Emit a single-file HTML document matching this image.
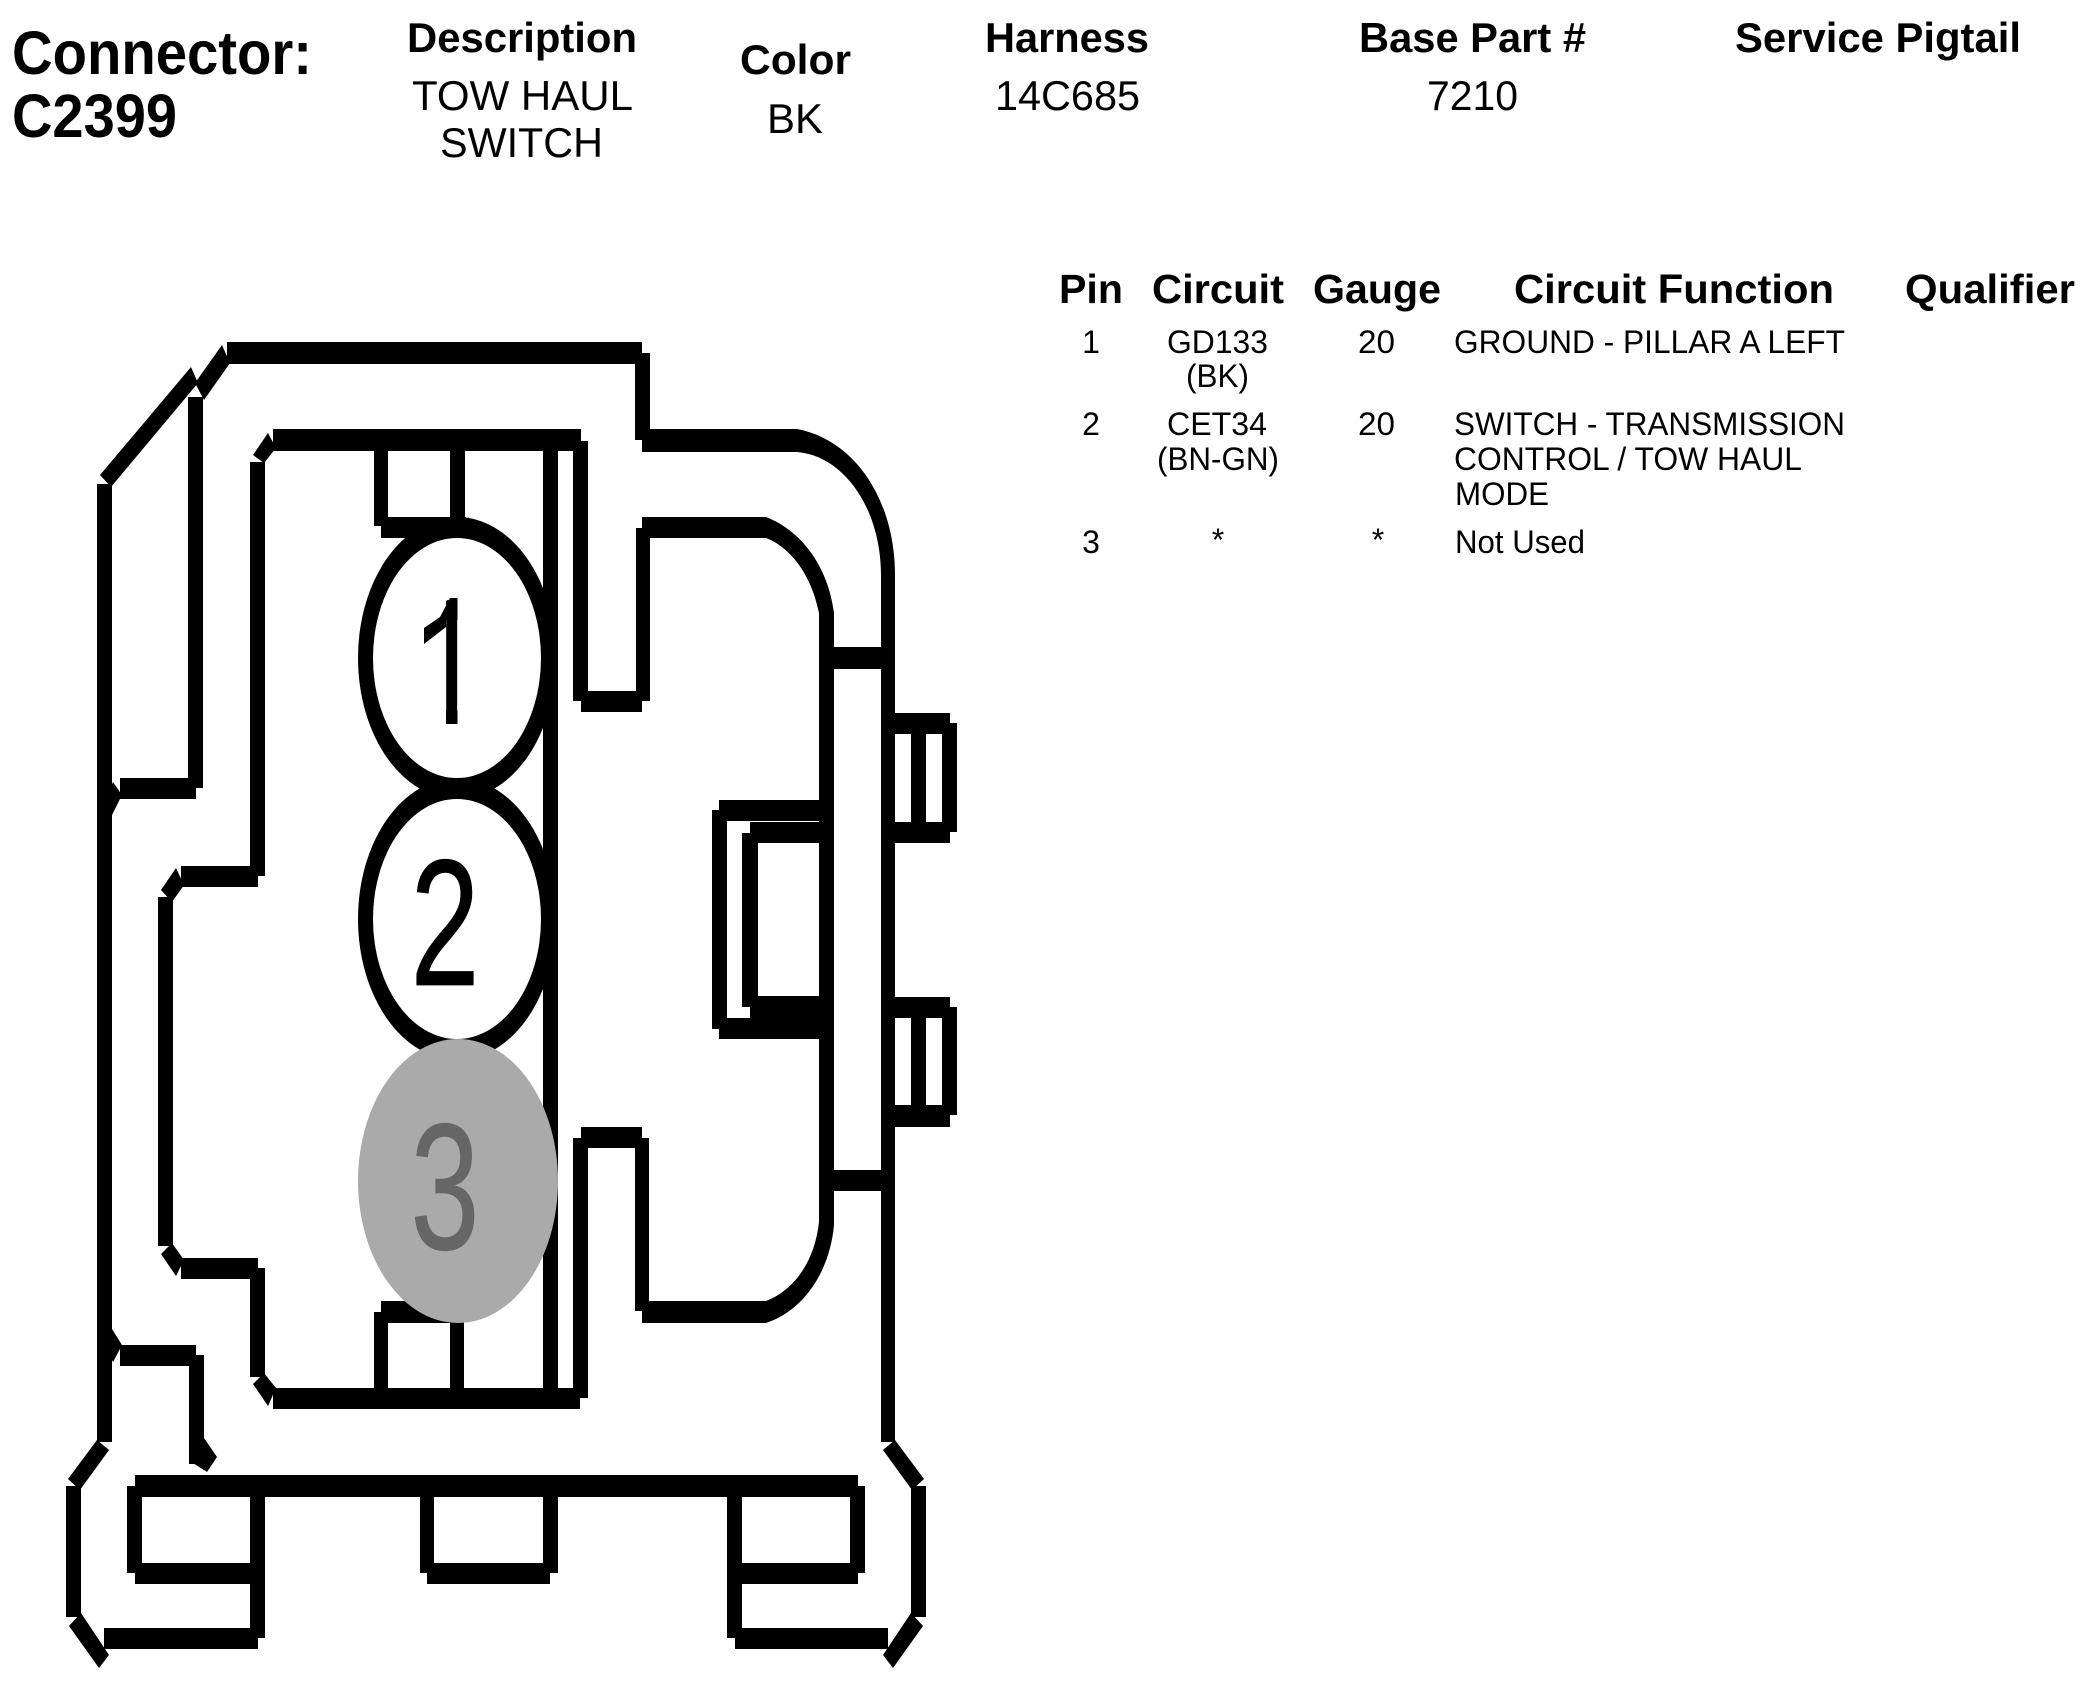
<!DOCTYPE html>
<html>
<head>
<meta charset="utf-8">
<title>Connector C2399</title>
<style>
html,body{margin:0;padding:0;background:#fff;width:2088px;height:1704px;overflow:hidden}
svg{display:block}
text{font-family:"Liberation Sans",Arial,sans-serif;fill:#000}
.b{font-weight:bold}
.h{font-size:42px;font-weight:bold}
.v{font-size:42px}
.t{font-size:41px;font-weight:bold}
.r{font-size:32px}
</style>
</head>
<body>
<svg width="2088" height="1704" viewBox="0 0 2088 1704" xmlns="http://www.w3.org/2000/svg">
<rect width="2088" height="1704" fill="#fff"/>

<!-- header -->
<text class="b" x="12" y="74" font-size="61" textLength="300" lengthAdjust="spacingAndGlyphs">Connector:</text>
<text class="b" x="12" y="137" font-size="61" textLength="165" lengthAdjust="spacingAndGlyphs">C2399</text>
<text class="h" x="407" y="52" textLength="230" lengthAdjust="spacingAndGlyphs">Description</text>
<text class="v" x="412" y="110" textLength="221" lengthAdjust="spacingAndGlyphs">TOW HAUL</text>
<text class="v" x="440" y="157" textLength="163" lengthAdjust="spacingAndGlyphs">SWITCH</text>
<text class="h" x="740" y="74" textLength="111" lengthAdjust="spacingAndGlyphs">Color</text>
<text class="v" x="767" y="133" textLength="56" lengthAdjust="spacingAndGlyphs">BK</text>
<text class="h" x="985" y="52" textLength="164" lengthAdjust="spacingAndGlyphs">Harness</text>
<text class="v" x="995" y="110" textLength="145" lengthAdjust="spacingAndGlyphs">14C685</text>
<text class="h" x="1359" y="52" textLength="227" lengthAdjust="spacingAndGlyphs">Base Part #</text>
<text class="v" x="1427" y="110" textLength="91" lengthAdjust="spacingAndGlyphs">7210</text>
<text class="h" x="1735" y="52" textLength="286" lengthAdjust="spacingAndGlyphs">Service Pigtail</text>

<!-- table -->
<text class="t" x="1059" y="303" textLength="64" lengthAdjust="spacingAndGlyphs">Pin</text>
<text class="t" x="1152" y="303" textLength="132" lengthAdjust="spacingAndGlyphs">Circuit</text>
<text class="t" x="1313" y="303" textLength="128" lengthAdjust="spacingAndGlyphs">Gauge</text>
<text class="t" x="1514" y="303" textLength="320" lengthAdjust="spacingAndGlyphs">Circuit Function</text>
<text class="t" x="1905" y="303" textLength="170" lengthAdjust="spacingAndGlyphs">Qualifier</text>

<text class="r" x="1091" y="353" text-anchor="middle">1</text>
<text class="r" x="1167" y="353" textLength="101" lengthAdjust="spacingAndGlyphs">GD133</text>
<text class="r" x="1186" y="387" textLength="63" lengthAdjust="spacingAndGlyphs">(BK)</text>
<text class="r" x="1358" y="353" textLength="37" lengthAdjust="spacingAndGlyphs">20</text>
<text class="r" x="1454" y="353" textLength="391" lengthAdjust="spacingAndGlyphs">GROUND - PILLAR A LEFT</text>

<text class="r" x="1091" y="435" text-anchor="middle">2</text>
<text class="r" x="1167" y="435" textLength="100" lengthAdjust="spacingAndGlyphs">CET34</text>
<text class="r" x="1157" y="470" textLength="122" lengthAdjust="spacingAndGlyphs">(BN-GN)</text>
<text class="r" x="1358" y="435" textLength="37" lengthAdjust="spacingAndGlyphs">20</text>
<text class="r" x="1454" y="435" textLength="391" lengthAdjust="spacingAndGlyphs">SWITCH - TRANSMISSION</text>
<text class="r" x="1454" y="470" textLength="348" lengthAdjust="spacingAndGlyphs">CONTROL / TOW HAUL</text>
<text class="r" x="1455" y="505" textLength="94" lengthAdjust="spacingAndGlyphs">MODE</text>

<text class="r" x="1091" y="553" text-anchor="middle">3</text>
<text class="r" x="1218" y="551" text-anchor="middle">*</text>
<text class="r" x="1378" y="551" text-anchor="middle">*</text>
<text class="r" x="1455" y="553" textLength="130" lengthAdjust="spacingAndGlyphs">Not Used</text>

<!-- connector drawing -->
<g fill="#000">
  <!-- outer shell top -->
  <rect x="227" y="342" width="415" height="22"/>
  <rect x="635" y="353" width="15" height="87"/>
  <rect x="642" y="429" width="155" height="23"/>
  <path d="M797 429C855 440 895 500 895 575L881 575C881 510 845 456 797 452Z"/>
  <polygon points="222,345 230,363 204,400 195,383"/>
  <polygon points="191,367 198,383 111,487 100,475"/>
  <rect x="97" y="484" width="15" height="958"/>
  <rect x="188" y="397" width="15" height="391"/>
  <rect x="120" y="778" width="76" height="21"/>
  <polygon points="113,782 122,795 112,815 105,800"/>
  <rect x="881" y="573" width="14" height="869"/>

  <!-- inner housing -->
  <rect x="273" y="429" width="308" height="22"/>
  <polygon points="268,433 276,448 264,463 253,455"/>
  <rect x="250" y="462" width="15" height="414"/>
  <rect x="181" y="866" width="77" height="21"/>
  <polygon points="176,868 184,885 172,902 161,890"/>
  <rect x="158" y="897" width="15" height="349"/>
  <polygon points="172,1243 184,1260 176,1276 161,1254"/>
  <rect x="181" y="1258" width="77" height="21"/>
  <rect x="250" y="1268" width="15" height="109"/>
  <polygon points="264,1373 276,1388 268,1406 253,1384"/>
  <rect x="273" y="1388" width="307" height="21"/>
  <rect x="573" y="441" width="15" height="260"/>
  <rect x="581" y="691" width="61" height="21"/>
  <rect x="636" y="528" width="14" height="173"/>
  <rect x="642" y="517" width="124" height="21"/>
  <path d="M766 517C800 530 828 565 834 613L819 613C810 568 785 545 766 538Z"/>
  <rect x="819" y="612" width="15" height="613"/>
  <path d="M834 1225C830 1270 805 1310 766 1323L766 1301C795 1290 815 1260 819 1222Z"/>
  <rect x="642" y="1301" width="124" height="22"/>
  <rect x="635" y="1138" width="14" height="173"/>
  <rect x="581" y="1127" width="61" height="21"/>
  <rect x="573" y="1138" width="15" height="260"/>

  <!-- pin cross lines -->
  <rect x="374" y="451" width="14" height="75"/>
  <rect x="450" y="451" width="15" height="70"/>
  <rect x="381" y="517" width="85" height="21"/>
  <rect x="374" y="1312" width="14" height="78"/>
  <rect x="381" y="1301" width="79" height="22"/>
  <rect x="450" y="1320" width="14" height="70"/>

  <!-- right bars and tabs -->
  <rect x="834" y="647" width="47" height="22"/>
  <rect x="834" y="1170" width="47" height="21"/>
  <rect x="895" y="713" width="55" height="21"/>
  <rect x="942" y="723" width="15" height="109"/>
  <rect x="911" y="734" width="15" height="88"/>
  <rect x="895" y="822" width="55" height="21"/>
  <rect x="895" y="997" width="55" height="21"/>
  <rect x="942" y="1007" width="15" height="108"/>
  <rect x="911" y="1018" width="15" height="87"/>
  <rect x="895" y="1105" width="55" height="22"/>

  <!-- latch -->
  <rect x="719" y="800" width="101" height="21"/>
  <rect x="712" y="810" width="15" height="219"/>
  <rect x="719" y="1018" width="101" height="21"/>
  <rect x="742" y="833" width="16" height="174"/>
  <rect x="750" y="822" width="70" height="21"/>
  <rect x="750" y="996" width="70" height="22"/>

  <!-- hook lower-left -->
  <polygon points="112,1329 122,1345 113,1362 104,1345"/>
  <rect x="120" y="1345" width="76" height="21"/>
  <rect x="189" y="1355" width="15" height="109"/>
  <polygon points="204,1438 217,1457 207,1472 193,1463"/>

  <!-- foot -->
  <rect x="135" y="1475" width="723" height="22"/>
  <rect x="127" y="1486" width="15" height="87"/>
  <rect x="135" y="1563" width="130" height="21"/>
  <rect x="250" y="1496" width="15" height="142"/>
  <rect x="104" y="1628" width="154" height="21"/>
  <rect x="420" y="1496" width="14" height="77"/>
  <rect x="543" y="1496" width="15" height="77"/>
  <rect x="427" y="1563" width="123" height="21"/>
  <rect x="727" y="1496" width="15" height="142"/>
  <rect x="850" y="1486" width="15" height="87"/>
  <rect x="735" y="1563" width="123" height="21"/>
  <rect x="735" y="1628" width="153" height="21"/>

  <!-- flared outer -->
  <rect x="66" y="1486" width="15" height="131"/>
  <polygon points="97,1440 109,1450 80,1490 68,1479"/>
  <polygon points="81,1613 109,1655 99,1668 69,1626"/>
  <rect x="911" y="1486" width="15" height="131"/>
  <polygon points="895,1440 883,1450 912,1490 924,1479"/>
  <polygon points="911,1613 883,1655 893,1668 923,1626"/>

  <!-- pin circles -->
  <ellipse cx="457" cy="658" rx="99" ry="141"/>
  <ellipse cx="457" cy="919" rx="99" ry="141"/>
</g>
<rect x="543" y="451" width="15" height="940" fill="#000"/>
<ellipse cx="457" cy="658" rx="84" ry="120" fill="#fff"/>
<ellipse cx="457" cy="919" rx="84" ry="120" fill="#fff"/>
<ellipse cx="458" cy="1181" rx="100" ry="142" fill="#aaa"/>

<text transform="translate(449.5 724) scale(.69 1)" font-size="180" text-anchor="middle">1</text>
<rect x="415" y="590" width="31" height="140" fill="#fff"/>
<rect x="457.500" y="590" width="26" height="140" fill="#fff"/>
<path d="M424 628L440 617L450 598L457.500 598L457.500 620L446 620L446 627L424 644Z" fill="#000"/>
<text transform="translate(445 985) scale(.69 1)" font-size="180" text-anchor="middle" stroke="#000" stroke-width=".8">2</text>
<text transform="translate(445 1249) scale(.69 1)" font-size="180" text-anchor="middle" style="fill:#666" stroke="#666" stroke-width=".8">3</text>
</svg>
</body>
</html>
